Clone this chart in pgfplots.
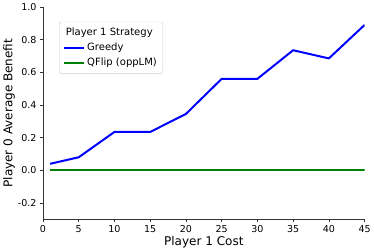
\documentclass[border=0pt]{standalone}
\usepackage{fontspec}
\setmainfont{DejaVu Sans}
\usepackage{pgfplots}
\pgfplotsset{compat=1.18}
\definecolor{mplgreen}{RGB}{0,128,0}
\definecolor{mplblue}{RGB}{0,0,255}
\begin{document}
\begin{tikzpicture}
\begin{axis}[
  scale only axis,
  width=321pt, height=212pt,
  xmin=0, xmax=45, ymin=-0.3, ymax=1.0,
  xtick={0,5,10,15,20,25,30,35,40,45},
  ytick={-0.2,0,0.2,0.4,0.6,0.8,1.0},
  yticklabel style={/pgf/number format/.cd,fixed,fixed zerofill,precision=1},
  /pgf/number format/assume math mode=true,
  ticklabel style={font=\fontsize{9.5}{11}\selectfont},
  axis lines*=left,
  axis line style={draw=black!80, line width=0.6pt},
  tick style={draw=black!80, line width=0.6pt},
  tick align=outside,
  major tick length=3pt,
  xlabel={Player 1 Cost}, ylabel={Player 0 Average Benefit},
  label style={font=\fontsize{12}{14}\selectfont},
  xlabel style={yshift=4pt},
  ylabel style={yshift=-4pt},
  legend style={at={(0.05,0.93)}, anchor=north west, font=\fontsize{10}{12}\selectfont, draw=black!20, rounded corners=2pt, inner sep=4pt, row sep=2pt},
  legend cell align=left,
  legend image code/.code={\draw[#1, line width=2pt] (0cm,0cm) -- (0.7cm,0cm);},
]
\addlegendimage{empty legend}
\addlegendentry{\hspace{-0.75cm}Player 1 Strategy}
\addplot[draw=mplblue, line width=2pt] coordinates {
(1,0.04) (5,0.08) (10,0.235) (15,0.235) (20,0.345) (25,0.56) (30,0.56) (35,0.735) (40,0.685) (45,0.89)};
\addlegendentry{Greedy}
\addplot[draw=mplgreen, line width=2.2pt] coordinates {
(1,0) (5,0) (10,0) (15,0) (20,0) (25,0) (30,0) (35,0) (40,0) (45,0)};
\addlegendentry{QFlip (oppLM)}
\end{axis}
\end{tikzpicture}
\end{document}
